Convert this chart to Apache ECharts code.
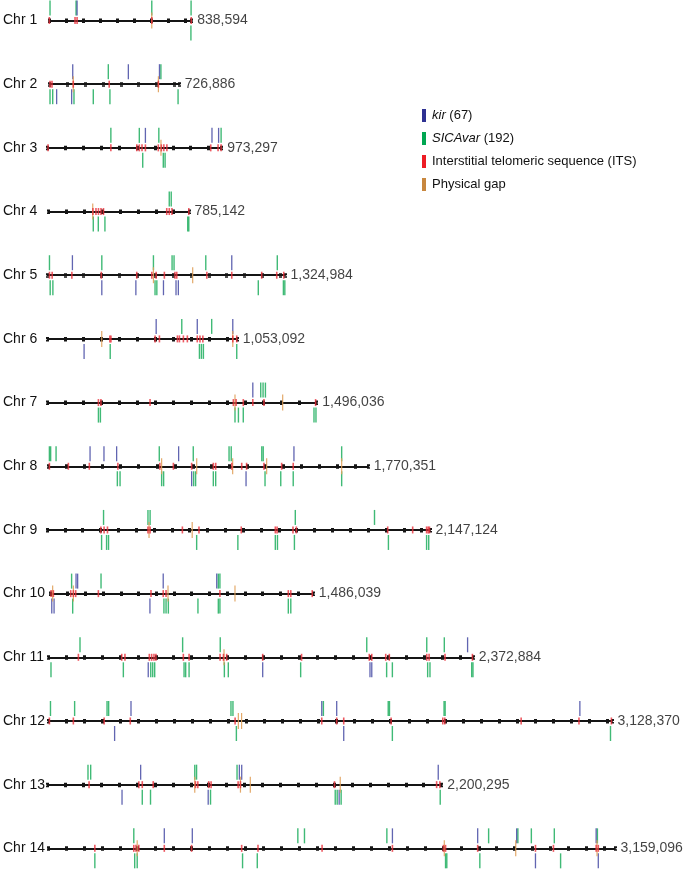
<!DOCTYPE html>
<html><head><meta charset="utf-8">
<script src="https://cdn.jsdelivr.net/npm/echarts/dist/echarts.min.js"></script>
<style>html,body{margin:0;padding:0;background:#fff}#c{width:685px;height:873px}</style>
</head><body><div id="c"></div>
<script>
// ---- DATA (positions in kb) ----
const chromNames = ['Chr 1','Chr 2','Chr 3','Chr 4','Chr 5','Chr 6','Chr 7','Chr 8','Chr 9','Chr 10','Chr 11','Chr 12','Chr 13','Chr 14'];
const chromLengths = [838594,726886,973297,785142,1324984,1053092,1496036,1770351,2147124,1486039,2372884,3128370,2200295,3159096];
const legendNames = ['kir','SICAvar','ITS','Physical gap'];
const legendCounts = [67,192,null,null];
const kirUp = [
 [165],[131,442,616],[547,919,956],[],[139,1028],[603,831,1028],[1141],
 [231,308,378,721,1359],[],[147,156,639,941],[2341],[458,1517,1600,2950],[520,1071,1084,2181],[648,804,1919,2394,2611,3054]];
const kirDown = [
 [],[41,125],[],[],[303,493,647,717,730],[203],[],
 [793,1094],[],[10,23,564],[558,1197,1796,1806],[367,1639],[416,897,1628],[2716,3066]];
const sicaUp = [
 [6,159,604,835],[330,624],[354,513,622,970],[675,686],[11,303,591,695,706,883,1282],[745,911],[1185,1198,1211],
 [6,13,43,614,802,1000,1012,1181,1189,1623],[317,566,578,1392,1836],[122,288,950,959],[177,750,960,1778,2113,2211],
 [11,145,325,334,1013,1024,1526,1886,1893,2196,2202],[226,241,822,832,1058],[478,1392,1429,1888,2455,2618,2693,2821,3061]];
const sicaDown = [
 [834],[4,19,138,246,339,720],[532,647,657],[251,279,316,778,784],[15,30,600,610,1176,1316,1324],[348,843,854,865,1050],
 [283,294,1042,1061,1088,1481,1492],[382,397,627,638,804,815,913,926,1199,1286,1355,1623],
 [306,334,345,839,1070,1280,1292,1387,1914,2128,2140],[128,643,655,668,835,950,959,1345,1359],
 [15,419,572,583,594,758,767,786,983,1005,1409,1889,1921,2118,2131,2364,2371],[1043,1909,3120],
 [529,575,910,1606,1617,1639,2192],[261,483,497,1084,1166,2215,2222,2406,2856]];
const itsPos = [
 [2,153,165,604,836],[4,15,134,335,610],[3,354,499,513,528,547,619,636,650,667,912,953,970],
 [249,266,280,294,308,661,675,690,784],[11,26,136,300,498,582,606,652,711,721,889,1028,1195,1279,1318],
 [346,352,597,621,721,732,754,776,831,846,862,1028,1050],[283,297,570,1033,1048,1088,1141,1203,1490],
 [6,111,227,385,617,692,793,913,926,1015,1070,1097,1193,1291,1355],
 [302,320,339,566,578,759,852,1089,1280,1290,1379,1398,1910,2050,2128,2137,2144],
 [6,19,117,132,145,273,570,639,655,959,1345,1359,1480],
 [168,410,428,564,577,590,601,754,786,959,978,996,1197,1414,1792,1806,1884,1904,2113,2126,2215,2368],
 [5,138,309,454,1036,1517,1600,1639,1902,2189,2200,2624,2945,3125],
 [232,510,529,590,826,839,900,913,1064,1077,1602,2172,2190],
 [261,478,490,506,648,800,1079,1170,1527,1919,2203,2215,2394,2716,2816,3054,3066]];
const gapPos = [
 [604],[134,610],[634],[248],[591,810],[301,1028],[1042,1307],[627,821,1020,1208,1623],[572,814],
 [15,132,666,1044],[981],[1054,1072],[822,1077,1132,1634],[497,2208,2606,3059]];

// ---- LAYOUT ----
const startPx = [49,49.3,47.5,48.3,47.5,47.5,47.5,48.3,47,50,48.3,48.5,47.5,48];
const endPx   = [191.7,179.3,221.7,189,285,237.3,316.7,368.3,430,313.3,473.3,612,441.7,615];
const row0 = 20.5, rowStep = 63.68;
const FONT = '"Liberation Sans", Arial, Helvetica, sans-serif';
const C = {kir:'#3a3f9e', sica:'#1fae5e', its:'#e8303a', gap:'#e0a05a'};
const legendColors = ['#2e3192','#00a651','#ed1c24','#c8873e'];

const grids=[], xAxes=[], yAxes=[], series=[], graphics=[];
chromNames.forEach((name,i)=>{
  const yc = row0 + i*rowStep;
  const len = chromLengths[i];
  const left = startPx[i], width = endPx[i]-startPx[i];
  grids.push({left:left, width:width, top:yc-20, height:40});
  grids.push({left:left, width:width, top:yc, height:1});
  const gF = 2*i, gB = 2*i+1;
  const xF = xAxes.length;
  xAxes.push({gridIndex:gF, type:'value', min:0, max:len, show:false});
  xAxes.push({gridIndex:gB, type:'value', min:0, max:len, interval:100000, position:'top',
    axisLabel:{show:false}, splitLine:{show:false},
    axisLine:{show:true, onZero:false, lineStyle:{color:'#151515', width:2}},
    axisTick:{show:true, length:2, lineStyle:{color:'#151515', width:3}}});
  xAxes.push({gridIndex:gB, type:'value', min:0, max:len, interval:100000, position:'bottom',
    axisLabel:{show:false}, splitLine:{show:false},
    axisLine:{show:false, onZero:false},
    axisTick:{show:true, length:1.5, lineStyle:{color:'#151515', width:3}}});
  yAxes.push({gridIndex:gF, type:'value', min:-20, max:20, show:false});
  yAxes.push({gridIndex:gB, type:'value', min:0, max:1, show:false});
  const mk = (arr, yv, color, nm, size, z, op) => series.push({
    type:'scatter', name:nm, xAxisIndex:xF, yAxisIndex:gF, silent:true, animation:false, z:z,
    data: arr.map(v=>[v*1000, yv]), symbol:'rect', symbolSize:size,
    itemStyle:{color:color, opacity:op}});
  mk(sicaUp[i], 12.5, C.sica, 'SICAvar', [1.4,15], 3, 0.85);
  mk(sicaDown[i], -12.5, C.sica, 'SICAvar', [1.4,15], 3, 0.85);
  mk(kirUp[i], 12.5, C.kir, 'kir', [1.3,15], 3, 0.8);
  mk(kirDown[i], -12.5, C.kir, 'kir', [1.3,15], 3, 0.8);
  mk(gapPos[i], 0, C.gap, 'Physical gap', [1.2,16], 4, 0.9);
  mk(itsPos[i], 0, C.its, 'ITS', [1.6,7], 5, 0.8);
  series.push({type:'scatter', xAxisIndex:xF, yAxisIndex:gF, silent:true, animation:false,
    data:[[len,0]], symbolSize:1, itemStyle:{color:'rgba(0,0,0,0)'},
    label:{show:true, position:'right', distance:5, formatter: len.toLocaleString('en-US'),
      fontSize:14, color:'#111', fontFamily:FONT}});
  graphics.push({type:'text', x:3, y:yc, silent:true,
    style:{text:name, fontSize:14, fontFamily:FONT, fill:'#111', verticalAlign:'middle'}});
});

const legendText = {
  'kir': '{i|kir} ('+legendCounts[0]+')',
  'SICAvar': '{i|SICAvar} ('+legendCounts[1]+')',
  'ITS': 'Interstitial telomeric sequence (ITS)',
  'Physical gap': 'Physical gap'
};

const chart = echarts.init(document.getElementById('c'), null, {renderer:'canvas'});
chart.setOption({
  animation:false,
  backgroundColor:'#fff',
  grid: grids, xAxis: xAxes, yAxis: yAxes, series: series, graphic: graphics,
  legend: {
    orient:'vertical', left:417, top:104, itemWidth:4, itemHeight:13, itemGap:10, icon:'rect',
    selectedMode:false,
    data: legendNames.map((n,k)=>({name:n, itemStyle:{color:legendColors[k], opacity:1}})),
    formatter: n => legendText[n],
    textStyle:{fontSize:13, color:'#111', fontFamily:FONT, padding:[0,0,0,1],
      rich:{i:{fontStyle:'italic', fontSize:13, color:'#111', fontFamily:FONT}}}
  }
});
</script></body></html>
